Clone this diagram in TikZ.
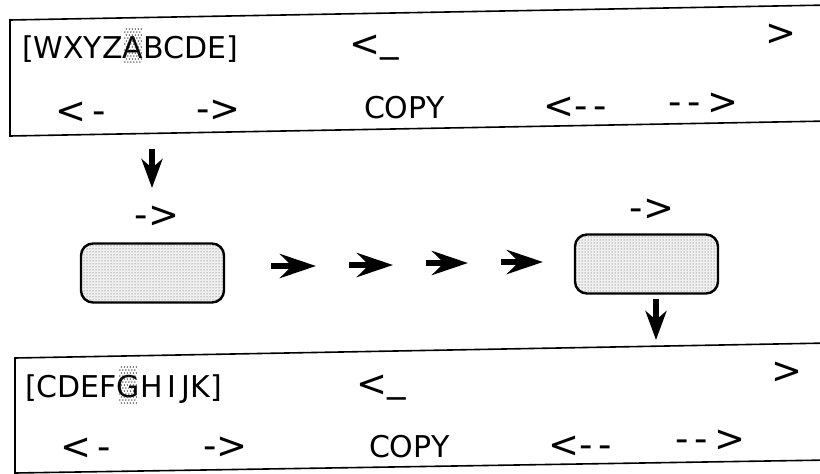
\documentclass[tikz,border=0pt]{standalone}
\usepackage{fontspec}
\setmainfont{DejaVu Sans}
\usetikzlibrary{arrows.meta,patterns}
\begin{document}
\begin{tikzpicture}[x=1pt,y=-1pt,
  lbl/.style={inner sep=0pt, outer sep=0pt, font=\fontsize{30pt}{35pt}\selectfont},
  sym/.style={inner sep=0pt, outer sep=0pt, font=\fontsize{37pt}{42pt}\selectfont},
  frame/.style={line width=1.6pt},
  pad/.style={draw, line width=2.4pt, rounded corners=12pt, minimum width=143pt,
    minimum height=59pt, inner sep=0pt, preaction={fill=gray!12}, pattern=dots, pattern color=black!70},
  stipple/.style={fill=black!80},
  bigarrow/.style={line width=6pt, -{Stealth[length=36pt,width=24pt,inset=12pt]}},
  downarrow/.style={line width=6pt, -{Stealth[length=29pt,width=21pt,inset=9pt]}},
]
\useasboundingbox (0,0) rectangle (820,474);

% ---------- top frame ----------
\draw[frame] (830,5) -- (10,20) -- (10,136) -- (830,121);
\node[lbl, anchor=base west] (t1) at (22,58) {[WXYZ};
\node[lbl, anchor=base west] (tA) at (t1.base east) {A};
\begin{scope}[shift={(tA.base west)}]
  \foreach \yy [count=\i] in {-29,-26,...,6} {
    \pgfmathsetmacro{\off}{mod(\i,2)*1.5}
    \foreach \xx in {2,5,...,17} {
      \fill[stipple] (\xx+\off,\yy) circle (0.75pt);
    }
  }
\end{scope}
\node[lbl, anchor=base west] (t2) at (tA.base east) {BCDE]};
\node[sym, anchor=base west] (tcur) at (349,56) {<\raisebox{5pt}{\_}};
\node[sym] (tgt) at (781,35) {>};
\node[sym, anchor=west] (tl1) at (55,113) {<\,-};
\node[sym, anchor=west] (tr1) at (196,111) {->};
\node[lbl, anchor=base west] (tcopy) at (364,118) {COPY};
\node[sym, anchor=west] (tl2) at (543,108) {<-\,-};
\node[sym, anchor=west] (tr2) at (668,104) {-\,-\,>};

% ---------- middle ----------
\node[sym] (lab1) at (157,217) {->};
\node[sym] (lab2) at (652,210) {->};
\node[pad] (p1) at (152.5,273) {};
\node[pad] (p2) at (646.5,264) {};

\coordinate (d1s) at (152,149);
\coordinate (d1e) at (152,188);
\draw[downarrow] (d1s) -- (d1e);

\coordinate (h1s) at (271,266); \coordinate (h1e) at (316,266);
\coordinate (h2s) at (349,265); \coordinate (h2e) at (393,265);
\coordinate (h3s) at (426,263); \coordinate (h3e) at (468,263);
\coordinate (h4s) at (501,262); \coordinate (h4e) at (543,262);
\draw[bigarrow] (h1s) -- (h1e);
\draw[bigarrow] (h2s) -- (h2e);
\draw[bigarrow] (h3s) -- (h3e);
\draw[bigarrow] (h4s) -- (h4e);

\coordinate (d2s) at (656,299);
\coordinate (d2e) at (656,340);
\draw[downarrow] (d2s) -- (d2e);

% ---------- bottom frame ----------
\draw[frame] (830,343) -- (15,358) -- (15,476);
\draw[frame] (15,473) -- (830,460);
\node[lbl, anchor=base west] (b1) at (25,397) {[CDEF};
\node[lbl, anchor=base west] (bG) at (b1.base east) {G};
\begin{scope}[shift={(bG.base west)}]
  \foreach \yy [count=\i] in {-30,-27,...,6} {
    \pgfmathsetmacro{\off}{mod(\i,2)*1.5}
    \foreach \xx in {3,6,...,18} {
      \fill[stipple] (\xx+\off,\yy) circle (0.75pt);
    }
  }
\end{scope}
\node[lbl, anchor=base west] (b2) at (bG.base east) {H\,I\,JK]};
\node[sym, anchor=base west] (bcur) at (356,396) {<\raisebox{5pt}{\_}};
\node[sym] (bgt) at (787,373) {>};
\node[sym, anchor=west] (bl1) at (60,449) {<\,-};
\node[sym, anchor=west] (br1) at (203,448) {->};
\node[lbl, anchor=base west] (bcopy) at (369,457) {COPY};
\node[sym, anchor=west] (bl2) at (548,447) {<-\,-};
\node[sym, anchor=west] (br2) at (675,441) {-\,-\,>};
\end{tikzpicture}
\end{document}
